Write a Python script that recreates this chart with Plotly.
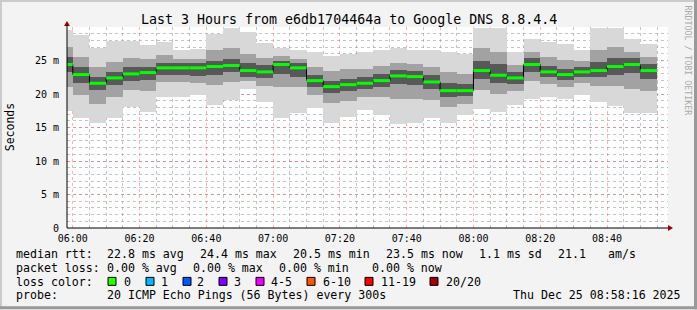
import plotly.graph_objects as go
import pandas as pd

W, H = 697, 310
ML, MR, MT, MB = 67, 29, 27, 81.5
PW, PH = W - ML - MR, H - MT - MB

# ---- data (ms) : one entry per 5-minute step starting 05:55 ----
median = [24.4, 22.9, 21.6, 22.4, 23.0, 23.2, 23.9, 23.9, 23.9, 24.1, 24.25, 23.5,
          23.3, 24.4, 23.9, 22.0, 21.1, 21.4, 21.6, 22.0, 22.7, 22.6, 21.8, 20.5,
          20.5, 23.5, 22.8, 22.4, 24.4, 23.3, 22.9, 23.3, 23.5, 24.1, 24.4, 23.5]
p_min = [17.5, 16.4, 15.6, 16.4, 18.1, 17.3, 19.5, 19.6, 19.8, 18.3, 19.1, 20.8,
         18.8, 16.4, 17.1, 17.9, 15.6, 16.6, 17.6, 16.8, 15.5, 15.6, 16.4, 15.6,
         16.8, 17.7, 17.3, 18.3, 19.3, 19.6, 19.3, 19.8, 18.8, 18.2, 17.2, 17.2]
p_max = [29.5, 28.8, 26.8, 27.9, 27.9, 27.3, 27.8, 26.6, 26.7, 29.0, 29.9, 29.3,
         27.6, 26.8, 26.5, 26.3, 25.6, 26.0, 26.3, 26.6, 26.9, 26.5, 26.6, 26.2,
         25.9, 29.9, 29.9, 26.3, 28.2, 27.7, 27.4, 26.5, 29.9, 29.9, 28.2, 27.5]
p_lo1 = [21.0, 19.8, 18.5, 19.5, 20.6, 20.5, 21.8, 21.8, 21.6, 21.3, 21.8, 22.0,
         21.2, 21.0, 21.0, 19.8, 18.6, 19.0, 19.6, 19.5, 19.3, 19.2, 19.1, 18.1,
         18.5, 20.6, 20.0, 20.4, 21.9, 21.5, 21.1, 21.6, 21.2, 21.2, 20.8, 20.4]
p_hi1 = [27.0, 25.5, 24.0, 24.8, 25.3, 25.2, 25.8, 25.2, 25.2, 26.5, 26.8, 26.0,
         25.3, 25.7, 25.2, 24.0, 23.4, 23.7, 23.8, 24.2, 24.7, 24.5, 24.1, 23.3,
         23.0, 26.8, 26.3, 24.3, 26.3, 25.5, 25.1, 24.9, 26.6, 27.0, 26.3, 25.5]
p_lo2 = [23.3, 21.6, 20.6, 21.4, 22.0, 22.1, 22.9, 22.9, 22.7, 22.8, 23.3, 22.6,
         22.4, 23.0, 22.6, 21.0, 20.1, 20.4, 20.7, 21.0, 21.5, 21.4, 20.8, 19.6,
         19.7, 22.2, 21.6, 21.5, 23.3, 22.5, 22.1, 22.5, 22.5, 22.9, 23.2, 22.3]
p_hi2 = [25.5, 24.0, 22.6, 23.3, 24.0, 24.1, 24.7, 24.6, 24.6, 25.0, 25.2, 24.6,
         24.3, 25.0, 24.6, 22.8, 22.0, 22.3, 22.5, 23.0, 23.6, 23.5, 22.8, 21.6,
         21.5, 25.0, 24.5, 23.3, 25.3, 24.2, 23.8, 24.1, 24.8, 25.3, 25.4, 24.5]

y_ticks = [0, 5, 10, 15, 20, 25]
y_ticktext = ["0", "5 m", "10 m", "15 m", "20 m", "25 m"]

title_text = "Last 3 Hours from e6db1704464a to Google DNS 8.8.4.4"
stats_rtt = ["22.8 ms avg", "24.4 ms max", "20.5 ms min", "23.5 ms now", "1.1 ms sd", "21.1", "am/s"]
stats_loss = ["0.00 % avg", "0.00 % max", "0.00 % min", "0.00 % now"]
loss_labels = ["0", "1", "2", "3", "4-5", "6-10", "11-19", "20/20"]
loss_colors = ["#26ff00", "#00b8ff", "#0059ff", "#7e00ff", "#ee00ff", "#ff5500", "#ff0000", "#a10000"]
probe_text = "20 ICMP Echo Pings (56 Bytes) every 300s"
date_text = "Thu Dec 25 08:58:16 2025"

FONT = "DejaVu Sans Mono"

starts = pd.date_range("2025-12-25 05:55:00", periods=len(median), freq="5min")
step = pd.Timedelta("5min")
centers = starts + step / 2

fig = go.Figure()
for lo, hi, col in [(p_min, p_max, "#d8d8d8"), (p_lo1, p_hi1, "#a2a2a2"), (p_lo2, p_hi2, "#585858")]:
    fig.add_trace(go.Bar(x=centers, y=[h - l for l, h in zip(lo, hi)], base=lo,
                         width=300000, marker=dict(color=col, line=dict(width=0)),
                         hoverinfo="skip"))

sx = list(starts) + [starts[-1] + step]
sy = median + [median[-1]]
fig.add_trace(go.Scatter(x=sx, y=sy, mode="lines",
                         line=dict(color="#000000", width=1, shape="hv"), hoverinfo="skip"))
gx, gy = [], []
for s, m in zip(starts, median):
    gx += [s, s + step, None]
    gy += [m, m, None]
fig.add_trace(go.Scatter(x=gx, y=gy, mode="lines", line=dict(color="#00ff00", width=3),
                         hoverinfo="skip"))


def px(x):
    return (x - ML) / PW


def py(y):
    return (H - MB - y) / PH


annotations = []


def txt(x, y, s, size=11.6, color="#000000", anchor="left", angle=0):
    annotations.append(dict(xref="paper", yref="paper", x=px(x), y=py(y), text=s,
                            showarrow=False, xanchor=anchor, yanchor="middle",
                            textangle=angle, borderpad=0, borderwidth=0,
                            font=dict(family=FONT, size=size, color=color)))


txt(348.5, 19, title_text, size=13.3, anchor="center")
txt(10, 127.5, "Seconds", size=11.5, anchor="center", angle=-90)
txt(688.5, 60, "RRDTOOL / TOBI OETIKER", size=8.3, color="#aaaaaa", anchor="center", angle=90)

txt(16, 254.3, "median rtt:")
for x, s in zip([107.3, 200, 293, 386, 479.3, 558.3, 607.7], stats_rtt):
    txt(x, 254.3, s)
txt(16, 268.3, "packet loss:")
for x, s in zip([107.3, 193.3, 279.3, 372.3], stats_loss):
    txt(x, 268.3, s)
txt(16, 282.3, "loss color:")
sq_x = [108, 146, 183, 219, 256, 307, 365, 430]
lab_x = [124, 161, 197, 234, 271, 322.7, 380.7, 446]
shapes = []
for sxp, lx, lab, col in zip(sq_x, lab_x, loss_labels, loss_colors):
    shapes.append(dict(type="rect", xref="paper", yref="paper", x0=px(sxp), x1=px(sxp + 8),
                       y0=py(278), y1=py(286), fillcolor=col,
                       line=dict(color="#000000", width=1), layer="above"))
    txt(lx, 282.3, lab)
txt(16, 296, "probe:")
txt(107.3, 296, probe_text)
txt(513.3, 296, date_text)

# frame borders
for (x0, y0, x1, y1, c) in [(0, 0, W, 2, "#cbcbcb"), (0, 0, 2, H, "#cbcbcb"),
                             (W - 3, 0, W, H, "#999999"), (0, H - 3, W, H, "#999999")]:
    shapes.append(dict(type="rect", xref="paper", yref="paper", x0=px(x0), x1=px(x1),
                       y0=py(y1), y1=py(y0), fillcolor=c, line=dict(width=0), layer="above"))
# axis lines and arrows
shapes.append(dict(type="path", xref="paper", yref="paper",
                   path=f"M {px(64)} {py(26)} L {px(70)} {py(26)} L {px(67)} {py(21)} Z",
                   fillcolor="#a00000", line=dict(width=0), layer="above"))
shapes.append(dict(type="line", xref="paper", yref="paper", x0=px(67), x1=px(67),
                   y0=py(228.5), y1=py(25), line=dict(color="#000000", width=1), layer="above"))
shapes.append(dict(type="line", xref="paper", yref="paper", x0=px(67), x1=px(669),
                   y0=py(228.5), y1=py(228.5), line=dict(color="#000000", width=1), layer="above"))
shapes.append(dict(type="path", xref="paper", yref="paper",
                   path=f"M {px(668)} {py(225.5)} L {px(668)} {py(231.5)} L {px(673)} {py(228.5)} Z",
                   fillcolor="#a00000", line=dict(width=0), layer="above"))

fig.update_layout(
    width=W, height=H, margin=dict(l=ML, r=MR, t=MT, b=MB, pad=0),
    paper_bgcolor="#f3f3f3", plot_bgcolor="#ffffff", showlegend=False,
    barmode="overlay", bargap=0,
    font=dict(family=FONT, size=10, color="#000000"),
    annotations=annotations, shapes=shapes,
    xaxis=dict(type="date", range=["2025-12-25 05:58:16", "2025-12-25 08:58:16"],
               tick0="2025-12-25 06:00:00", dtick=1200000, tickformat="%H:%M",
               showgrid=True, gridcolor="rgba(255,80,80,0.45)", griddash="dot", gridwidth=1,
               minor=dict(dtick=300000, tick0="2025-12-25 06:00:00", showgrid=True,
                          gridcolor="rgba(150,150,150,0.55)", griddash="dot", gridwidth=1),
               showline=False, zeroline=False, ticks="", ticklabelstandoff=3,
               tickfont=dict(family=FONT, size=10, color="#000000")),
    yaxis=dict(range=[0, 30], tickvals=y_ticks, ticktext=y_ticktext,
               showgrid=True, gridcolor="rgba(255,80,80,0.45)", griddash="dot", gridwidth=1,
               minor=dict(dtick=1, tick0=0, showgrid=True,
                          gridcolor="rgba(150,150,150,0.55)", griddash="dot", gridwidth=1),
               showline=False, zeroline=False, ticks="", ticklabelstandoff=7,
               tickfont=dict(family=FONT, size=10, color="#000000")),
)

fig.write_html("out.html")
